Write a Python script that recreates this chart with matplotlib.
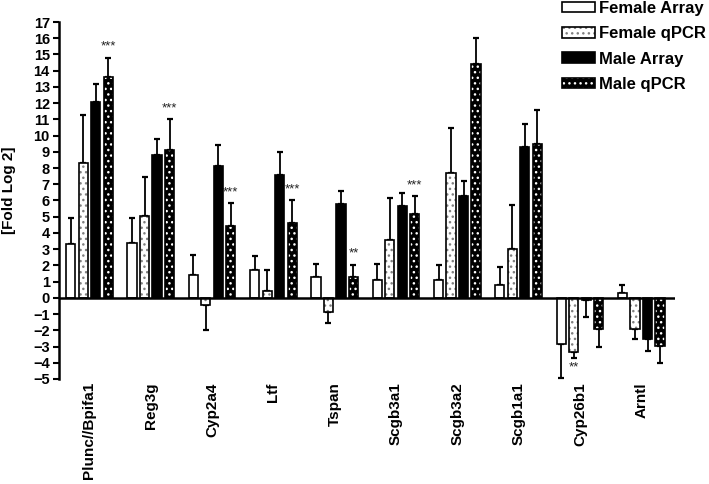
import matplotlib
matplotlib.use('Agg')
import matplotlib.pyplot as plt
import numpy as np
from matplotlib.patches import Patch
from matplotlib.legend_handler import HandlerTuple

genes = ['Plunc//Bpifa1', 'Reg3g', 'Cyp2a4', 'Ltf', 'Tspan', 'Scgb3a1',
         'Scgb3a2', 'Scgb1a1', 'Cyp26b1', 'Arntl']
series_names = ['Female Array', 'Female qPCR', 'Male Array', 'Male qPCR']

female_array = [3.3, 3.4, 1.4, 1.7, 1.3, 1.13, 1.09, 0.78, -2.84, 0.27]
female_array_err = [1.6, 1.5, 1.25, 0.9, 0.8, 0.95, 0.93, 1.13, 2.08, 0.55]
female_qpcr = [8.3, 5.05, -0.45, 0.4, -0.9, 3.58, 7.7, 2.98, -3.33, -1.93]
female_qpcr_err = [3.0, 2.4, 1.55, 1.3, 0.65, 2.6, 2.75, 2.74, 0.39, 0.6]
male_array = [12.1, 8.8, 8.1, 7.55, 5.8, 5.68, 6.3, 9.32, -0.12, -2.51]
male_array_err = [1.1, 1.0, 1.3, 1.45, 0.8, 0.76, 0.92, 1.42, 1.09, 0.76]
male_qpcr = [13.6, 9.1, 4.45, 4.6, 1.3, 5.14, 14.42, 9.48, -1.89, -2.94]
male_qpcr_err = [1.2, 1.9, 1.4, 1.4, 0.75, 1.12, 1.6, 2.12, 1.13, 1.07]

# significance marks: gene index, series index, label
sig_gene = [0, 1, 2, 3, 4, 5, 8]
sig_series = [3, 3, 3, 3, 3, 3, 1]
sig_label = ['***', '***', '***', '***', '**', '***', '**']

yticks = list(range(-5, 18))

values = [female_array, female_qpcr, male_array, male_qpcr]
errors = [female_array_err, female_qpcr_err, male_array_err, male_qpcr_err]

plt.rcParams['font.family'] = ['Liberation Sans', 'DejaVu Sans']
plt.rcParams['hatch.linewidth'] = 1.0

fig = plt.figure(figsize=(7.09, 4.84), dpi=100)
ax = fig.add_axes([0.083, 0.217, 0.869, 0.7375])

x = np.arange(len(genes))
step = 0.204
width = 0.15
face = ['white', 'white', 'black', 'black']
hatch_col = [None, '#808080', None, 'white']
edge_lw = 1.2

for j in range(4):
    xs = x + (j - 1.5) * step
    v = np.array(values[j])
    e = np.array(errors[j])
    ax.bar(xs, v, width, color=face[j], edgecolor='none', zorder=2)
    if hatch_col[j] is not None:
        ax.bar(xs, v, width, facecolor='none', edgecolor=hatch_col[j],
               hatch='...', linewidth=0, zorder=3)
    ax.bar(xs, v, width, facecolor='none', edgecolor='black',
           linewidth=edge_lw, zorder=4)
    lower = np.where(v < 0, e, 0)
    upper = np.where(v >= 0, e, 0)
    ax.errorbar(xs, v, yerr=[lower, upper], fmt='none', ecolor='black',
                elinewidth=1.3, capsize=2.5, capthick=1.6, zorder=1)

for g, s, lab in zip(sig_gene, sig_series, sig_label):
    xs = g + (s - 1.5) * step
    v = values[s][g]
    e = errors[s][g]
    if v >= 0:
        ax.text(xs, v + e + 0.3, lab, ha='center', va='bottom', fontsize=9.5,
                color='#222222')
    else:
        ax.text(xs, v - e - 0.2, lab, ha='center', va='top', fontsize=9.5,
                color='#222222')

ax.axhline(0, color='black', linewidth=1.8, zorder=5)
ax.set_xlim(-0.5, 9.55)
ax.set_ylim(-5, 17)
ax.set_yticks(yticks)
ax.set_yticklabels([str(t).replace('-', '\u2212') for t in yticks],
                   fontsize=10.5, fontweight='bold')
ax.tick_params(axis='y', length=4.5, width=1.5, pad=2)
ax.set_xticks([])
for sp in ['top', 'right', 'bottom']:
    ax.spines[sp].set_visible(False)
ax.spines['left'].set_linewidth(1.8)

for i, g in enumerate(genes):
    ax.text(i, -5.2, g, rotation=90, ha='center', va='top', fontsize=11,
            fontweight='bold')

ax.set_ylabel('[Fold Log 2]', fontsize=11, fontweight='bold')
ax.yaxis.set_label_coords(-0.07, 0.53)

handles = []
for j in range(4):
    parts = [Patch(facecolor=face[j], edgecolor='none')]
    if hatch_col[j] is not None:
        parts.append(Patch(facecolor='none', edgecolor=hatch_col[j],
                           hatch='...', linewidth=0))
    parts.append(Patch(facecolor='none', edgecolor='black', linewidth=edge_lw))
    handles.append(tuple(parts))

fig.legend(handles, series_names, loc='upper left',
           bbox_to_anchor=(0.792, 0.998), frameon=False,
           handler_map={tuple: HandlerTuple(ndivide=1, pad=0)},
           prop={'weight': 'bold', 'size': 12}, handlelength=2.0,
           handleheight=0.6, handletextpad=0.25, labelspacing=0.62,
           borderpad=0, borderaxespad=0)

fig.savefig('out.png', dpi=100)
